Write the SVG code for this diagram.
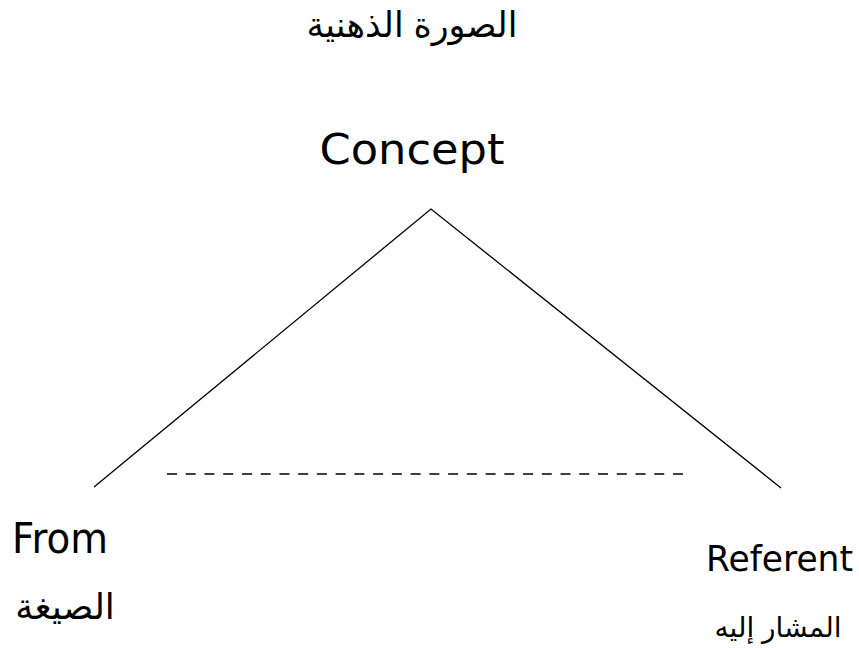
<svg xmlns="http://www.w3.org/2000/svg" width="859" height="648" viewBox="0 0 859 648">
<style>
.en{font-family:"DejaVu Sans","Liberation Sans",sans-serif;fill:#000}
.ar{font-family:"Liberation Sans","DejaVu Sans",sans-serif;fill:#000}
.ln{stroke:#000;stroke-width:1.3;fill:none}
</style>
<rect width="859" height="648" fill="#fff"/>
<g id="title"><text class="ar" x="412" y="37" font-size="35" text-anchor="middle" direction="rtl">الصورة الذهنية</text></g>
<g id="concept"><text class="en" x="412" y="164" font-size="42" text-anchor="middle" textLength="185" lengthAdjust="spacingAndGlyphs">Concept</text></g>
<g id="form"><text class="en" x="12" y="553" font-size="42" textLength="96" lengthAdjust="spacingAndGlyphs">From</text>
<text class="ar" x="65" y="619" font-size="36" text-anchor="middle" direction="rtl">الصيغة</text></g>
<g id="referent"><text class="en" x="706" y="571" font-size="36" textLength="147" lengthAdjust="spacingAndGlyphs">Referent</text>
<text class="ar" x="778" y="637" font-size="28" text-anchor="middle" direction="rtl">المشار إليه</text></g>
<g id="connectors">
<polyline class="ln" points="94,487 431,209 781,488"/>
<line class="ln" x1="167" y1="474" x2="683" y2="474" stroke-width="2.6" stroke-dasharray="10,8.74"/>
</g>
</svg>
